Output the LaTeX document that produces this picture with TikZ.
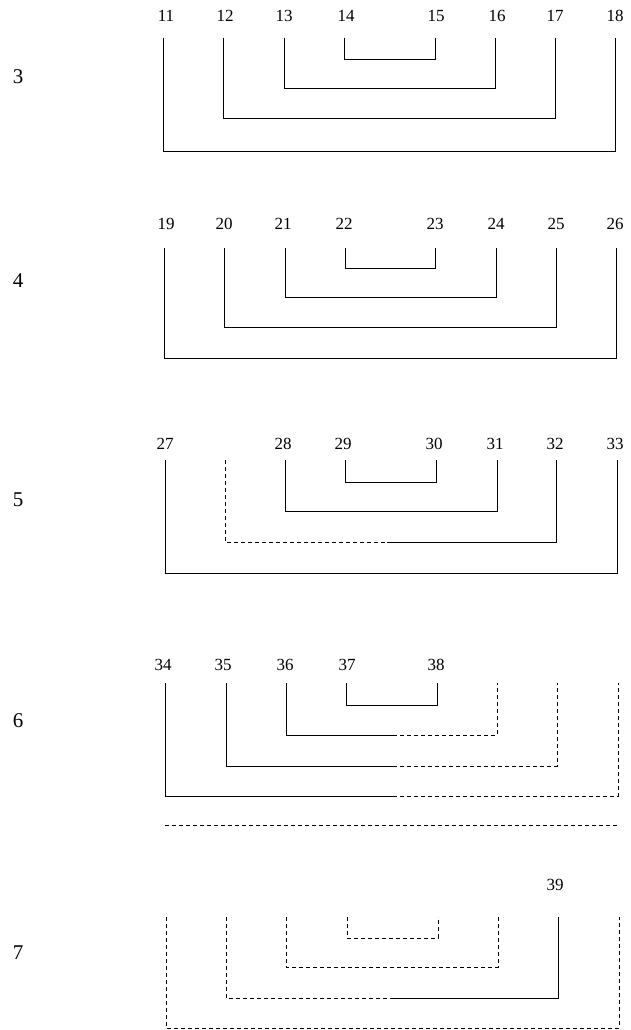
\documentclass[tikz,border=0pt]{standalone}
\usepackage{fontspec}
\setmainfont{Liberation Serif}
\begin{document}
\begin{tikzpicture}[x=1pt,y=1pt,line width=0.9pt]
\tikzstyle{every node}+=[inner sep=0pt]
\tikzstyle{num}=[font=\fontsize{17}{17}\selectfont]
\tikzstyle{rownum}=[font=\fontsize{21}{21}\selectfont]
\tikzstyle{gone}=[dash pattern=on 4pt off 3pt]
\useasboundingbox (0,0) rectangle (630,-1030);
% row 3
\draw (18,-77) node[rownum] (r3) {3};
\draw (166,-16) node[num] (l11) {11};
\draw (225,-16) node[num] (l12) {12};
\draw (284,-16) node[num] (l13) {13};
\draw (346,-16) node[num] (l14) {14};
\draw (436,-16) node[num] (l15) {15};
\draw (497,-16) node[num] (l16) {16};
\draw (555,-16) node[num] (l17) {17};
\draw (615,-16) node[num] (l18) {18};
\draw (344,-38) -- (344,-59) -- (435,-59) -- (435,-38);
\draw (284,-38) -- (284,-88) -- (495,-88) -- (495,-38);
\draw (223,-38) -- (223,-118) -- (555,-118) -- (555,-38);
\draw (163,-38) -- (163,-151) -- (615,-151) -- (615,-38);
% row 4
\draw (18,-281) node[rownum] (r4) {4};
\draw (166,-224) node[num] (l19) {19};
\draw (224,-224) node[num] (l20) {20};
\draw (283,-224) node[num] (l21) {21};
\draw (344,-224) node[num] (l22) {22};
\draw (435,-224) node[num] (l23) {23};
\draw (496,-224) node[num] (l24) {24};
\draw (556,-224) node[num] (l25) {25};
\draw (615,-224) node[num] (l26) {26};
\draw (345,-248) -- (345,-268) -- (435,-268) -- (435,-248);
\draw (285,-248) -- (285,-297) -- (496,-297) -- (496,-248);
\draw (224,-248) -- (224,-327) -- (556,-327) -- (556,-248);
\draw (164,-248) -- (164,-358) -- (616,-358) -- (616,-248);
% row 5
\draw (18,-500) node[rownum] (r5) {5};
\draw (165,-444) node[num] (l27) {27};
\draw (283,-444) node[num] (l28) {28};
\draw (343,-444) node[num] (l29) {29};
\draw (434,-444) node[num] (l30) {30};
\draw (495,-444) node[num] (l31) {31};
\draw (555,-444) node[num] (l32) {32};
\draw (615,-444) node[num] (l33) {33};
\draw (345,-460) -- (345,-482) -- (436,-482) -- (436,-460);
\draw (285,-460) -- (285,-511) -- (497,-511) -- (497,-460);
\draw[gone] (225,-460) -- (225,-542) -- (387,-542);
\draw (387,-542) -- (556,-542) -- (556,-460);
\draw (165,-460) -- (165,-573) -- (617,-573) -- (617,-460);
% row 6
\draw (18,-721) node[rownum] (r6) {6};
\draw (163,-665) node[num] (l34) {34};
\draw (223,-665) node[num] (l35) {35};
\draw (285,-665) node[num] (l36) {36};
\draw (347,-665) node[num] (l37) {37};
\draw (436,-665) node[num] (l38) {38};
\draw (346,-683) -- (346,-705) -- (437,-705) -- (437,-683);
\draw (286,-683) -- (286,-735) -- (393,-735);
\draw[gone] (393,-735) -- (497,-735) -- (497,-683);
\draw (226,-683) -- (226,-766) -- (393,-766);
\draw[gone] (393,-766) -- (557,-766) -- (557,-683);
\draw (165,-683) -- (165,-796) -- (393,-796);
\draw[gone] (393,-796) -- (618,-796) -- (618,-683);
\draw[gone] (165,-825) -- (618,-825);
% row 7
\draw (18,-953) node[rownum] (r7) {7};
\draw (555,-885) node[num] (l39) {39};
\draw[gone] (347,-917) -- (347,-938) -- (438,-938) -- (438,-917);
\draw[gone] (286,-917) -- (286,-967) -- (498,-967) -- (498,-917);
\draw[gone] (226,-917) -- (226,-998) -- (393,-998);
\draw (393,-998) -- (558,-998) -- (558,-917);
\draw[gone] (166,-917) -- (166,-1028) -- (619,-1028) -- (619,-917);
\end{tikzpicture}
\end{document}
